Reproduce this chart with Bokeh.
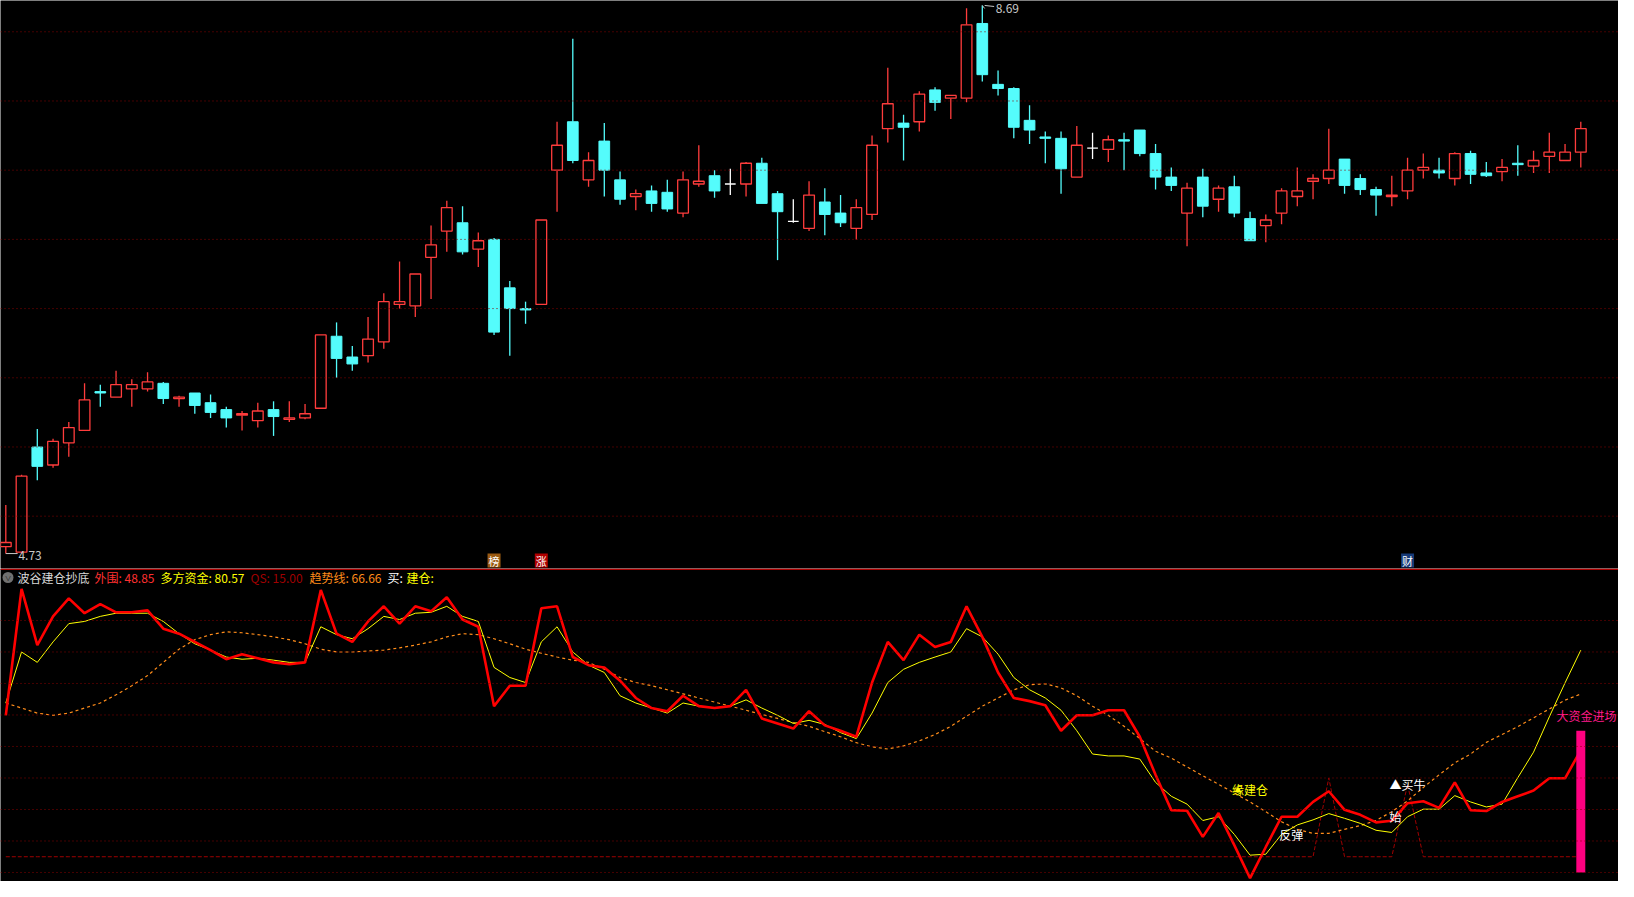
from bokeh.plotting import figure
from bokeh.layouts import column
from bokeh.models import Span, Range1d
from bokeh.embed import file_html
from bokeh.resources import INLINE
from bokeh.core.properties import value

# ---------------- data: daily candles ----------------
opens = [4.78, 4.74, 5.50, 5.37, 5.53, 5.62, 5.90, 5.86, 5.92, 5.92,
         5.96, 5.85, 5.89, 5.82, 5.77, 5.73, 5.69, 5.77, 5.70, 5.71,
         5.78, 6.30, 6.15, 6.16, 6.26, 6.53, 6.52, 6.87, 7.06, 7.12,
         6.93, 7.00, 6.65, 6.50, 6.53, 7.50, 7.85, 7.43, 7.71, 7.43,
         7.31, 7.35, 7.34, 7.19, 7.40, 7.46, 7.40, 7.40, 7.55, 7.33,
         7.13, 7.08, 7.27, 7.19, 7.08, 7.18, 7.80, 7.84, 7.85, 8.08,
         8.02, 8.02, 8.56, 8.12, 8.09, 7.86, 7.74, 7.73, 7.45, 7.66,
         7.65, 7.72, 7.79, 7.62, 7.45, 7.19, 7.45, 7.29, 7.38, 7.15,
         7.10, 7.19, 7.31, 7.42, 7.44, 7.58, 7.44, 7.36, 7.31, 7.35,
         7.50, 7.50, 7.44, 7.62, 7.48, 7.49, 7.55, 7.53, 7.60, 7.57,
         7.63]
highs = [5.08, 5.30, 5.63, 5.56, 5.68, 5.96, 5.95, 6.05, 5.99, 6.04,
         5.97, 5.87, 5.89, 5.88, 5.79, 5.76, 5.82, 5.83, 5.83, 5.81,
         6.31, 6.40, 6.23, 6.44, 6.61, 6.84, 6.75, 7.10, 7.28, 7.24,
         7.05, 7.01, 6.70, 6.55, 7.14, 7.85, 8.45, 7.63, 7.84, 7.49,
         7.36, 7.39, 7.43, 7.49, 7.68, 7.50, 7.51, 7.56, 7.59, 7.35,
         7.29, 7.42, 7.37, 7.32, 7.29, 7.75, 8.24, 7.90, 8.07, 8.10,
         8.04, 8.67, 8.69, 8.22, 8.10, 7.97, 7.78, 7.78, 7.82, 7.77,
         7.75, 7.77, 7.79, 7.69, 7.52, 7.41, 7.51, 7.39, 7.46, 7.20,
         7.18, 7.37, 7.52, 7.47, 7.80, 7.58, 7.47, 7.38, 7.46, 7.59,
         7.62, 7.59, 7.63, 7.64, 7.56, 7.58, 7.68, 7.64, 7.77, 7.69,
         7.85]
lows = [4.73, 4.73, 5.26, 5.35, 5.43, 5.62, 5.79, 5.86, 5.79, 5.90,
        5.81, 5.79, 5.74, 5.71, 5.64, 5.62, 5.64, 5.58, 5.68, 5.70,
        5.78, 6.00, 6.05, 6.11, 6.21, 6.50, 6.44, 6.57, 6.91, 6.89,
        6.80, 6.31, 6.16, 6.39, 6.53, 7.20, 7.55, 7.38, 7.31, 7.25,
        7.21, 7.20, 7.20, 7.16, 7.38, 7.30, 7.32, 7.31, 7.26, 6.85,
        7.12, 7.06, 7.03, 7.09, 7.00, 7.14, 7.70, 7.57, 7.78, 7.93,
        7.87, 7.99, 8.14, 8.04, 7.73, 7.69, 7.55, 7.33, 7.45, 7.58,
        7.56, 7.50, 7.60, 7.36, 7.35, 6.95, 7.16, 7.20, 7.16, 6.99,
        6.98, 7.11, 7.24, 7.29, 7.40, 7.33, 7.32, 7.17, 7.24, 7.29,
        7.44, 7.44, 7.39, 7.40, 7.45, 7.42, 7.46, 7.48, 7.48, 7.57,
        7.52]
closes = [4.81, 5.29, 5.36, 5.54, 5.64, 5.84, 5.89, 5.95, 5.95, 5.97,
          5.85, 5.86, 5.80, 5.75, 5.71, 5.74, 5.76, 5.72, 5.71, 5.74,
          6.31, 6.14, 6.10, 6.28, 6.55, 6.55, 6.75, 6.96, 7.23, 6.91,
          6.99, 6.33, 6.50, 6.49, 7.14, 7.68, 7.57, 7.57, 7.50, 7.29,
          7.33, 7.26, 7.22, 7.43, 7.42, 7.35, 7.40, 7.55, 7.26, 7.20,
          7.13, 7.32, 7.18, 7.12, 7.23, 7.68, 7.98, 7.81, 8.05, 7.99,
          8.04, 8.55, 8.19, 8.09, 7.81, 7.79, 7.73, 7.51, 7.68, 7.66,
          7.72, 7.71, 7.62, 7.45, 7.39, 7.37, 7.24, 7.37, 7.19, 6.99,
          7.14, 7.35, 7.35, 7.44, 7.50, 7.39, 7.36, 7.32, 7.32, 7.50,
          7.52, 7.48, 7.62, 7.47, 7.46, 7.52, 7.54, 7.57, 7.63, 7.63,
          7.80]

# markers under the price panel
mark_idx = [31, 34, 89]
mark_text = ["榜", "涨", "财"]
mark_bg = ["#9a5a12", "#b00000", "#163a78"]

# ---------------- data: indicator 波谷建仓抄底 ----------------
wai_wei = [59.9, 100, 82.2, 91.3, 97, 92.3, 95.2, 92.6, 92.6, 93.2,
           87.4, 85.8, 83.2, 80.6, 77.7, 79.3, 78, 76.7, 76.1, 76.7,
           99.7, 85.8, 83.2, 89.7, 94.5, 89, 94.5, 92.9, 97.4, 90.3,
           88, 62.8, 69.3, 69.3, 93.9, 94.5, 78.4, 75.8, 75.1, 70.9,
           65.4, 62.2, 61.2, 66.1, 62.8, 62.2, 62.8, 68, 58.9, 57.3,
           55.7, 61.2, 56.7, 55, 53.1, 70.3, 83.2, 77.4, 85.5, 81.6,
           83.2, 94.5, 84.8, 73.5, 65.4, 64.4, 63.1, 55, 59.9, 59.9,
           61.5, 61.5, 53.1, 41, 29.8, 29.6, 21.3, 28.9, 18.7, 8.2,
           18.1, 27.7, 27.7, 32.4, 35.8, 29.9, 28.3, 25.9, 26.4, 32,
           32.6, 30.5, 38.6, 29.8, 29.5, 32.4, 34.2, 36, 39.9, 39.9,
           48.85]
duo_fang = [63.8, 80, 76.7, 83.2, 89, 89.7, 91.3, 92.3, 92.3, 92.3,
            89.7, 85.8, 82.6, 80.6, 78.4, 77.7, 78, 77.4, 76.7, 76.7,
            88, 85.5, 84.2, 87.4, 91.3, 90.3, 92.3, 92.6, 94.5, 91.3,
            89.7, 75.1, 71.9, 70.3, 83.2, 88, 80, 75.8, 73.5, 66.1,
            63.8, 62.2, 60.6, 63.8, 62.8, 62.2, 62.8, 64.8, 62.2, 59.9,
            57.3, 58.3, 57, 54.4, 52.5, 60.6, 70.3, 74.5, 76.7, 78.4,
            80, 87.4, 84.8, 79.3, 71.9, 68, 65.4, 61.5, 55, 47.6,
            47, 47, 46, 38.6, 34.2, 31.7, 26.5, 27.7, 22.1, 15.5,
            15.8, 22.1, 25.1, 26.7, 28.7, 27.2, 25.6, 23.4, 22.7, 27.7,
            30.1, 30.1, 34.4, 32.4, 30.8, 31.7, 40.1, 48.2, 59.4, 70.2,
            80.57]
qu_shi = [63.8, 62.2, 60.6, 59.9, 60.6, 62.2, 63.8, 66.4, 69.3, 72.5,
          76.7, 80.9, 83.9, 85.5, 86.4, 86.1, 85.5, 84.8, 83.9, 82.6,
          80.9, 80, 80, 80.3, 80.6, 81.3, 82.2, 83.2, 84.8, 85.8,
          85.5, 84.2, 82.6, 80.9, 79.6, 78.4, 77.4, 76.7, 74.5, 71.9,
          70.3, 69.3, 68, 66.7, 65.4, 64.1, 62.8, 61.5, 60.2, 58.9,
          57.6, 56.4, 54.7, 53.1, 51.2, 49.9, 49.2, 50.2, 51.8, 53.8,
          56.4, 59.6, 62.8, 65.4, 68, 69.6, 69.9, 68.6, 66.1, 62.8,
          59.9, 56.4, 52.5, 48.5, 46.3, 43.5, 40.7, 38, 35.2, 32.4,
          29.3, 26.1, 23.7, 22.4, 22.4, 23.7, 24.9, 26.5, 29.3, 32.7,
          37, 41, 44.8, 47.6, 51.3, 53.8, 56.3, 59.1, 61.9, 64.7,
          66.66]
qs = [15.0] * 84 + [40.0] + [15.0] * 4 + [38.0] + [15.0] * 11

# signal texts
sig_idx = [78, 81, 88, 88]
sig_val = [36.4, 22.1, 27.7, 38.0]
sig_text = ["缘建仓", "反弹", "始", "▲买牛"]
sig_color = ["#ffff00", "#ffffff", "#ffffff", "#ffffff"]

big_idx = [100]
big_bottom = [10.0]
big_top = [55.0]
big_label = "大资金进场"
big_label_val = 59.7

header_text = ["波谷建仓抄底", "外围: 48.85", "多方资金: 80.57", "QS: 15.00",
               "趋势线: 66.66", "买:", "建仓:"]
header_color = ["#d8d8d8", "#ff3030", "#ffff00", "#a00000", "#ff8c1a",
                "#ffffff", "#ffff00"]

# ---------------- layout constants ----------------
FONT = value("Noto Sans CJK SC")
W = 1618
TOP_H = 568
BOT_H = 313
PX = 15.75                      # pixels per candle
X0 = -5.3 / PX
X1 = X0 + W / PX
TOP_Y0, TOP_Y1 = 4.622, 8.726
KY = TOP_H / (TOP_Y1 - TOP_Y0)
BOT_Y0, BOT_Y1 = 7.14, 106.5
KB = BOT_H / (BOT_Y1 - BOT_Y0)

RED = "#ff3c3c"
CYAN = "#54fcfc"
GRID = "#8a0000"

N = len(opens)
idx = list(range(N))


def base_fig(h, y0, y1, xr=None):
    f = figure(width=W, height=h,
               x_range=xr if xr is not None else Range1d(X0, X1),
               y_range=Range1d(y0, y1),
               output_backend="svg", toolbar_location=None,
               x_axis_type=None, y_axis_type=None,
               min_border=0, min_border_left=0, min_border_right=0,
               min_border_top=0, min_border_bottom=0,
               background_fill_color="black", border_fill_color="black",
               outline_line_color=None)
    return f


# ---------------- price panel ----------------
p = base_fig(TOP_H, TOP_Y0, TOP_Y1)
for lv in [5.0, 5.5, 6.0, 6.5, 7.0, 7.5, 8.0, 8.5]:
    p.add_layout(Span(location=lv, dimension="width", line_color=GRID,
                      line_dash="1 3", line_width=1))

up_x, up_top, up_bot = [], [], []
dn_x, dn_top, dn_bot = [], [], []
fl_x, fl_y = [], []
wick_x0, wick_y0, wick_y1, wick_c = [], [], [], []
for i in idx:
    o, h, l, c = opens[i], highs[i], lows[i], closes[i]
    top, bot = max(o, c), min(o, c)
    if c > o:
        col = RED
        up_x.append(i); up_top.append(top); up_bot.append(bot)
    elif c < o:
        col = CYAN
        dn_x.append(i); dn_top.append(top); dn_bot.append(bot)
    else:
        col = "#ffffff"
        fl_x.append(i); fl_y.append(o)
    if h > top:
        wick_x0.append(i); wick_y0.append(h); wick_y1.append(top); wick_c.append(col)
    if l < bot:
        wick_x0.append(i); wick_y0.append(bot); wick_y1.append(l); wick_c.append(col)

BW = 0.68
p.segment(x0=wick_x0, y0=wick_y0, x1=wick_x0, y1=wick_y1, line_color=wick_c, line_width=1.3)
p.vbar(x=dn_x, top=dn_top, bottom=dn_bot, width=BW, fill_color=CYAN, line_color=CYAN, line_width=1)
p.vbar(x=up_x, top=up_top, bottom=up_bot, width=BW, fill_color="black", line_color=RED, line_width=1.3)
p.segment(x0=[x - BW / 2 for x in fl_x], y0=fl_y, x1=[x + BW / 2 for x in fl_x], y1=fl_y,
          line_color="#ffffff", line_width=1.3)

# extreme labels
hi_i = max(idx, key=lambda i: highs[i])
lo_i = min(idx, key=lambda i: lows[i])
hi_v, lo_v = highs[hi_i], lows[lo_i]
p.segment(x0=[hi_i, hi_i + 0.15], y0=[hi_v, hi_v], x1=[hi_i + 0.15, hi_i + 0.75],
          y1=[hi_v - 3 / KY, hi_v - 1 / KY], line_color="#c8c8c8", line_width=1)
p.text(x=[hi_i + 0.85], y=[hi_v + 1 / KY], text=["%.2f" % hi_v], text_color="#c8c8c8",
       text_font=FONT, text_font_size="12px", text_baseline="top", text_align="left")
p.segment(x0=[lo_i], y0=[lo_v], x1=[lo_i + 0.75], y1=[lo_v], line_color="#c8c8c8", line_width=1)
p.text(x=[lo_i + 0.8], y=[lo_v - 2 / KY], text=["%.2f" % lo_v], text_color="#c8c8c8",
       text_font=FONT, text_font_size="12px", text_baseline="middle", text_align="left")

# markers 榜 涨 财
my = TOP_Y0 + 8 / KY
p.rect(x=mark_idx, y=[my] * len(mark_idx), width=13, height=14,
       width_units="screen", height_units="screen",
       fill_color=mark_bg, line_color=None)
p.text(x=mark_idx, y=[my] * len(mark_idx), text=mark_text, text_color="#ffffff",
       text_font=FONT, text_font_size="11px", text_align="center", text_baseline="middle")

# ---------------- indicator panel ----------------
p2 = base_fig(BOT_H, BOT_Y0, BOT_Y1, xr=p.x_range)
for lv in [10, 20, 30, 40, 50, 60, 70, 80, 90]:
    p2.add_layout(Span(location=lv, dimension="width", line_color=GRID,
                       line_dash="1 3", line_width=1))
p2.add_layout(Span(location=BOT_Y1 - 0.8 / KB, dimension="width",
                   line_color="#b00000", line_width=1.5))

p2.line(idx, qs, line_color="#a00000", line_dash="4 2", line_width=1)
p2.line(idx, qu_shi, line_color="#ff8c1a", line_dash="3 3", line_width=1.2)
p2.line(idx, duo_fang, line_color="#ffff00", line_width=1)
p2.line(idx, wai_wei, line_color="#ff0000", line_width=2.6)

p2.vbar(x=big_idx, bottom=big_bottom, top=big_top, width=0.57,
        fill_color="#ff0080", line_color=None)
# label kept inside the frame (right edge of the chart)
p2.text(x=[X1 - 2 / PX], y=[big_label_val], text=[big_label], text_color="#ff1a8c",
        text_font=FONT, text_font_size="12px", text_align="right", text_baseline="middle")

p2.text(x=[i - 0.15 for i in sig_idx], y=sig_val, text=sig_text, text_color=sig_color,
        text_font=FONT, text_font_size="12px", text_align="left", text_baseline="middle")
# yellow triangle over the first character of 缘建仓
p2.scatter(x=[sig_idx[0] - 0.15 + 6 / PX], y=[sig_val[0] - 1 / KB], marker="triangle",
           size=7, fill_color="#ffff00", line_color=None)

# header
hy = BOT_Y1 - 9 / KB
p2.scatter(x=[X0 + 7.5 / PX], y=[hy], marker="circle", size=11,
           fill_color="#707070", line_color=None)
p2.text(x=[X0 + 7.5 / PX], y=[hy + 0.3], text=["˅"], text_color="#202020",
        text_font=FONT, text_font_size="11px", text_align="center", text_baseline="middle")
hx = [17, 94, 160, 250, 309, 387, 406]
p2.text(x=[X0 + v / PX for v in hx], y=[hy] * len(hx), text=header_text,
        text_color=header_color, text_font=FONT, text_font_size="12px",
        text_align="left", text_baseline="middle")

layout = column(p, p2, spacing=0)
open("out.html", "w").write(file_html(layout, INLINE))
